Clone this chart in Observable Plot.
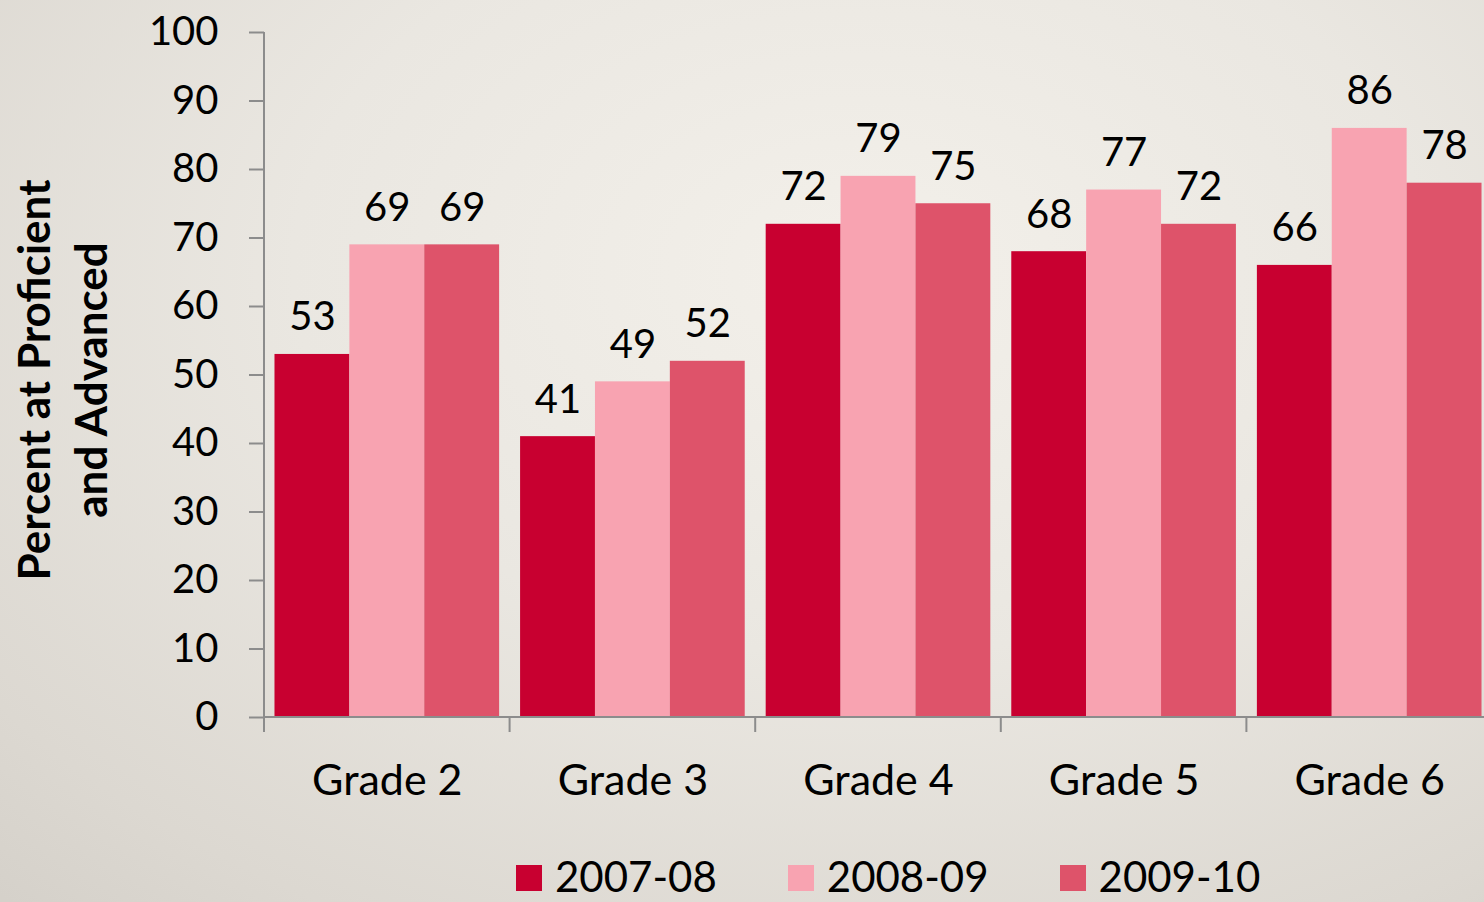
<!DOCTYPE html>
<html>
<head>
<meta charset="utf-8">
<script src="https://cdn.jsdelivr.net/npm/d3@7"></script>
<script src="https://cdn.jsdelivr.net/npm/@observablehq/plot@0.6"></script>
<style>
html, body { margin: 0; padding: 0; width: 1484px; height: 902px; overflow: hidden; }
body {
  position: relative;
  font-family: Lato, "Open Sans", sans-serif;
  background: radial-gradient(ellipse 85% 95% at 58% 30%, #F3F0EA 0%, #EAE7E1 45%, #DCD8D1 85%, #D5D1CA 100%);
}
#chart svg { display: block; background: transparent; }
#legend {
  position: absolute; left: 516px; top: 855px; height: 42px;
  display: flex; align-items: center; font-size: 42px; color: #000; line-height: 1;
}
#legend .item { display: flex; align-items: center; margin-right: 71px; }
#legend .sw { width: 26px; height: 26px; margin-right: 13px; margin-top: 4px; }
</style>
</head>
<body>
<div id="chart"></div>
<div id="legend"></div>
<script>
// ---- data ----
const grades = ["Grade 2", "Grade 3", "Grade 4", "Grade 5", "Grade 6"];
const years = ["2007-08", "2008-09", "2009-10"];
const values2007 = [53, 41, 72, 68, 66];
const values2008 = [69, 49, 79, 77, 86];
const values2009 = [69, 52, 75, 72, 78];
const yTicks = [0, 10, 20, 30, 40, 50, 60, 70, 80, 90, 100];
const yTitle = "Percent at Proficient\nand Advanced";
const colors = ["#C80030", "#F8A3B1", "#DE536A"];
const axisColor = "#8C8C8C";

const series = [values2007, values2008, values2009];
const table = [];
grades.forEach((g, i) => years.forEach((yr, j) => table.push({grade: g, year: yr, value: series[j][i]})));

const axisLines = Plot.frame({
  facet: "super",
  render(index, scales) {
    const {fx, y} = scales;
    const left = fx(grades[0]);
    const step = fx(grades[1]) - left;
    const y0 = y(0);
    const g = d3.create("svg:g").attr("stroke", axisColor).attr("stroke-width", 2).attr("fill", "none");
    g.append("line").attr("x1", left).attr("x2", left).attr("y1", y(100)).attr("y2", y0 + 15);
    grades.forEach((gr) => {
      const xb = fx(gr) + step;
      g.append("line").attr("x1", xb).attr("x2", xb).attr("y1", y0).attr("y2", y0 + 15);
    });
    g.append("line").attr("x1", left).attr("x2", fx(grades[grades.length - 1]) + step).attr("y1", y0).attr("y2", y0);
    return g.node();
  }
});

const chart = Plot.plot({
  width: 1484,
  height: 840,
  marginLeft: 264,
  marginRight: -8,
  marginTop: 32,
  marginBottom: 123,
  style: {fontFamily: "Lato, 'Open Sans', sans-serif", fontSize: "40px", background: "transparent", color: "#000", overflow: "visible"},
  fx: {domain: grades, padding: 0, round: false, label: null},
  x: {domain: years, paddingInner: 0, paddingOuter: 0.14, round: false, axis: null},
  y: {domain: [0, 100], axis: null},
  color: {domain: years, range: colors},
  marks: [
    Plot.barY(table, {fx: "grade", x: "year", y: "value", fill: "year"}),
    Plot.text(table, {fx: "grade", x: "year", y: "value", text: d => String(d.value), lineAnchor: "bottom", dy: -24, fontSize: 40, fill: "#000"}),
    Plot.axisY({ticks: yTicks, tickSize: 15, tickPadding: 31, stroke: axisColor, strokeWidth: 2, fill: "#000", fontSize: 40, label: null}),
    Plot.axisFx({anchor: "bottom", tickSize: 0, tickPadding: 47, fontSize: 43, fill: "#000", label: null}),
    axisLines,
    Plot.text([yTitle], {facet: "super", x: null, y: null, frameAnchor: "left", dx: -204, dy: 5, rotate: -90, text: d => d, textAnchor: "middle", lineAnchor: "middle", lineHeight: 1.3, fontWeight: "bold", fontSize: 44, fill: "#000"})
  ]
});
document.getElementById("chart").append(chart);

const legend = document.getElementById("legend");
years.forEach((yr, j) => {
  const item = document.createElement("div");
  item.className = "item";
  const sw = document.createElement("div");
  sw.className = "sw";
  sw.style.background = colors[j];
  const t = document.createElement("span");
  t.textContent = yr;
  item.append(sw, t);
  legend.append(item);
});
</script>
</body>
</html>
